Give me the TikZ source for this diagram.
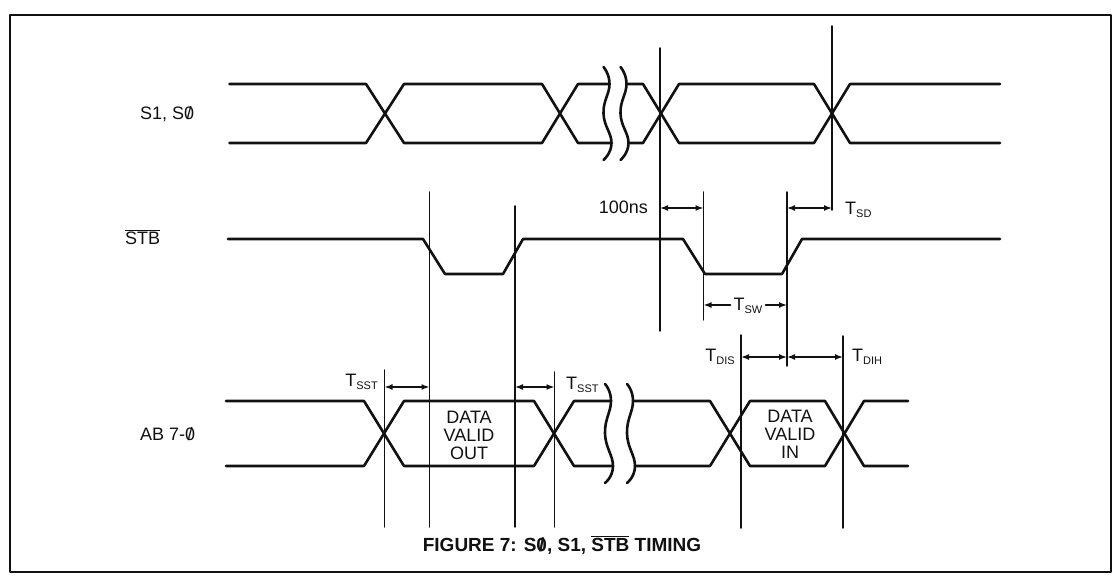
\documentclass[tikz,border=0pt]{standalone}
\usepackage{fontspec}
\setmainfont{Liberation Sans}
\usetikzlibrary{arrows.meta}
\definecolor{Ink}{HTML}{111111}
\tikzset{
  frame/.style={draw=Ink,line width=2.0pt},
  wave/.style={draw=Ink,line width=2.6pt,line join=round},
  guide/.style={draw=Ink,line width=1.5pt},
  dim arrow/.style={draw=Ink,line width=1.5pt,{Latex[length=8pt,width=6pt]}-{Latex[length=8pt,width=6pt]}},
  half arrow/.style={draw=Ink,line width=1.5pt,-{Latex[length=8pt,width=6pt]}},
  sig label/.style={anchor=west,text=Ink,inner sep=0pt,font=\fontsize{18}{18}\selectfont},
  time label/.style={text=Ink,inner sep=0pt,font=\fontsize{18}{18}\selectfont},
  data label/.style={text=Ink,align=center,inner sep=0pt,font=\fontsize{18}{18}\selectfont},
  fig caption/.style={text=Ink,inner sep=0pt,font=\bfseries\fontsize{19}{19}\selectfont}
}
\newcommand{\zslash}{\ooalign{0\cr\hidewidth/\hidewidth\cr}}
\newcommand{\tsub}[1]{T\raisebox{-0.3ex}{\fontsize{11}{11}\selectfont #1}}
\newcommand{\Guide}[4]{%
  \coordinate (#1) at (#2,#3);
  \draw[guide] (#1) -- (#2,#4);
}
\newcommand{\BusBreak}[4]{%
  \draw[wave] plot[smooth,tension=0.8] coordinates {({#1},{#2-17}) ({#1+6},{#2}) ({#1},{#3}) ({#1+8},{#4}) ({#1},{#4+17})};
}

\begin{document}
\begin{tikzpicture}[x=1pt,y=-1pt,line cap=round,line join=round]
  \useasboundingbox (0,0) rectangle (1117,577);
  \draw[frame] (10,15) rectangle (1111,572);

  % signal names
  \node[sig label] (lblS) at (140,114) {S1, S\zslash};
  \node[sig label] (lblSTB) at (125,237) {$\overline{\mbox{STB}}$};
  \node[sig label] (lblAB) at (140,434) {AB 7-\zslash};

  % S1, S0
  \draw[wave] (229.5,84) -- (366,84) -- (404,143) -- (542,143) -- (578,84) -- (609.5,84);
  \draw[wave] (229.5,143) -- (366,143) -- (404,84) -- (542,84) -- (578,143) -- (611.5,143);
  \BusBreak{603.5}{84}{113.5}{143}
  \BusBreak{620.5}{84}{113.5}{143}
  \draw[wave] (626.5,84) -- (643,84) -- (679,143) -- (814,143) -- (850,84) -- (1000,84);
  \draw[wave] (628.5,143) -- (643,143) -- (679,84) -- (814,84) -- (850,143) -- (1000,143);

  % STB
  \draw[wave] (228,239) -- (423,239) -- (445,274) -- (503,274) -- (523,239) -- (683,239) -- (705,274) -- (782,274) -- (802,239) -- (1000,239);

  % AB 7-0
  \draw[wave] (226,401) -- (364,401) -- (404,466) -- (534,466) -- (574,401) -- (611,401);
  \draw[wave] (226,466) -- (364,466) -- (404,401) -- (534,401) -- (574,466) -- (613,466);
  \BusBreak{605}{401}{433.5}{466}
  \BusBreak{627}{401}{433.5}{466}
  \draw[wave] (633,401) -- (710,401) -- (750,466) -- (825,466) -- (864,401) -- (908,401);
  \draw[wave] (635,466) -- (710,466) -- (750,401) -- (825,401) -- (864,466) -- (908,466);
  \node[data label] (dvo) at (469,435) {DATA\\VALID\\OUT};
  \node[data label] (dvi) at (790,434) {DATA\\VALID\\IN};

  % guides
  \Guide{g1}{384.5}{370}{527}
  \Guide{g2}{429.5}{192}{527}
  \Guide{g3}{515}{206}{527}
  \Guide{g4}{554.5}{372}{527}
  \Guide{g5}{660}{48}{331}
  \Guide{g6}{703.5}{192}{320}
  \Guide{g7}{741}{335}{528}
  \Guide{g8}{787}{192}{366}
  \Guide{g9}{832}{26}{210}
  \Guide{g10}{843}{336}{528}

  % timing spans
  \draw[dim arrow] (g5 |- 0,208) -- (g6 |- 0,208);
  \node[time label,anchor=east] (t100) at (648,207) {100ns};
  \draw[dim arrow] (g8 |- 0,208) -- (g9 |- 0,208);
  \node[time label,anchor=west] (tsd) at (845,210) {\tsub{SD}};
  \node[time label] (tsw) at (748,306) {\tsub{SW}};
  \draw[half arrow] ([xshift=-3pt]tsw.west |- 0,305) -- (g6 |- 0,305);
  \draw[half arrow] ([xshift=3pt]tsw.east |- 0,305) -- (g8 |- 0,305);
  \draw[dim arrow] (g7 |- 0,357) -- (g8 |- 0,357);
  \draw[dim arrow] (g8 |- 0,357) -- (g10 |- 0,357);
  \node[time label,anchor=east] (tdis) at (735,357) {\tsub{DIS}};
  \node[time label,anchor=west] (tdih) at (852,357) {\tsub{DIH}};
  \draw[dim arrow] (g1 |- 0,387) -- (g2 |- 0,387);
  \draw[dim arrow] (g3 |- 0,387) -- (g4 |- 0,387);
  \node[time label,anchor=east] (tsst1) at (378,382) {\tsub{SST}};
  \node[time label,anchor=west] (tsst2) at (566,385) {\tsub{SST}};

  \node[fig caption] (cap) at (562,545) {FIGURE 7: S\zslash, S1, $\overline{\mbox{STB}}$ TIMING};
\end{tikzpicture}
\end{document}
